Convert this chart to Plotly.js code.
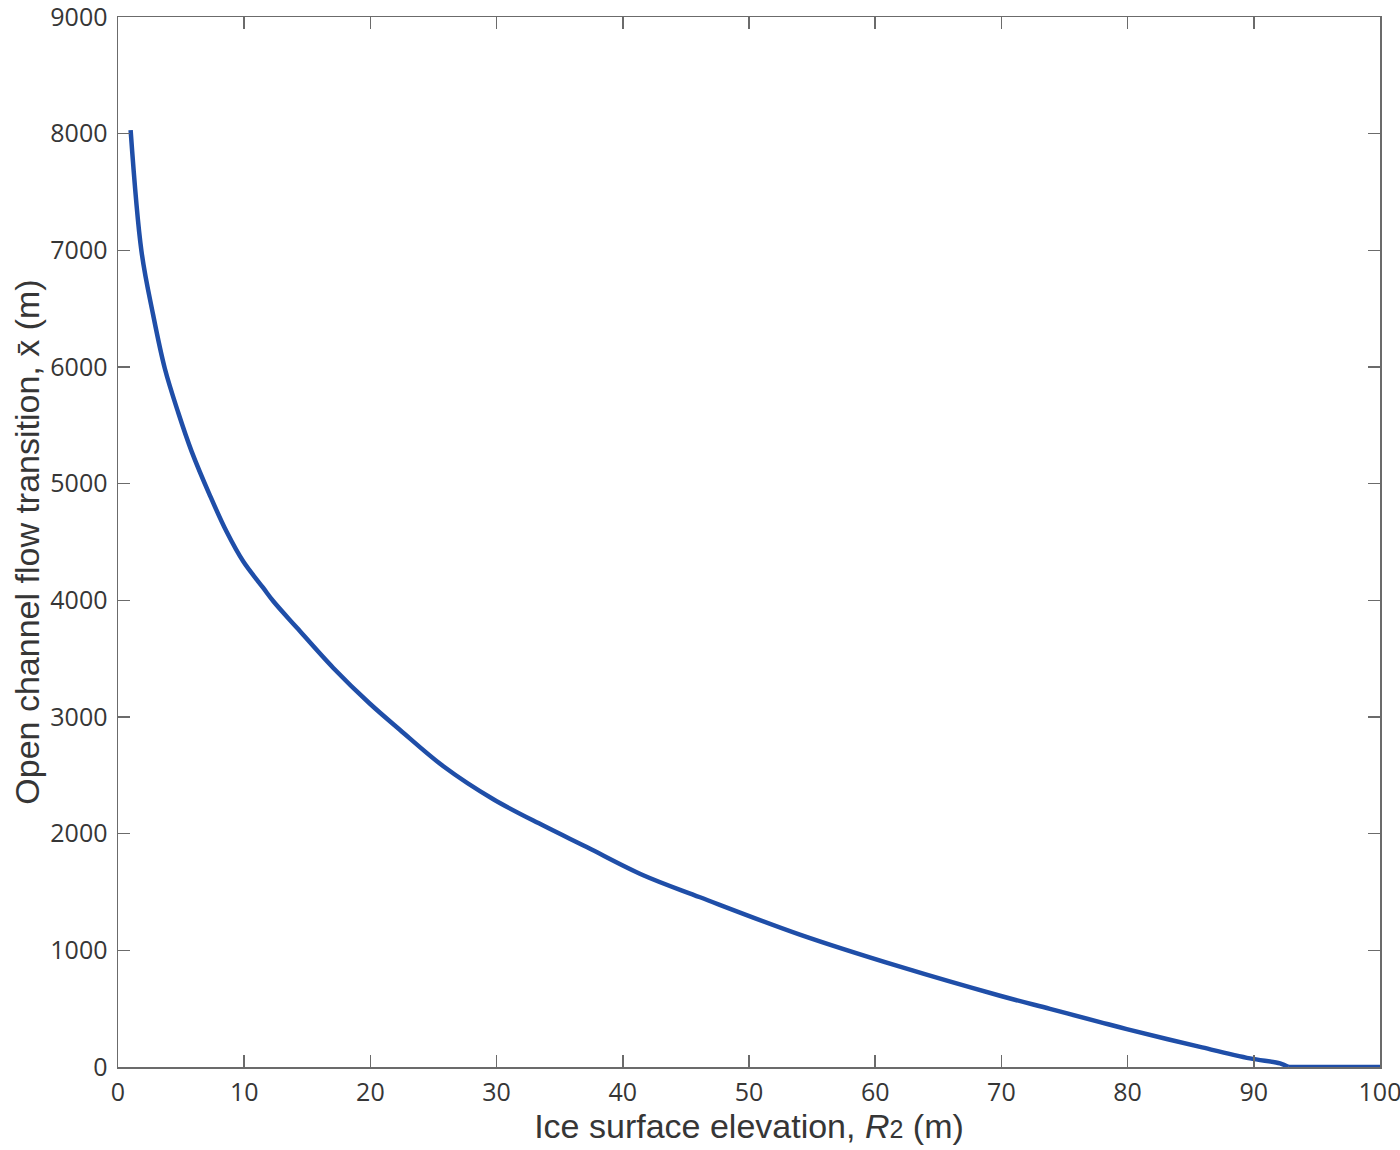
<!DOCTYPE html>
<html>
<head>
<meta charset="utf-8">
<script src="https://cdn.plot.ly/plotly-3.0.1.min.js"></script>
<style>
  html, body { margin: 0; padding: 0; background: #fff; }
  #chart { width: 1400px; height: 1150px; }
</style>
</head>
<body>
<div id="chart"></div>
<script>
// Ice surface elevation R2 (m) vs open channel flow transition x̄ (m)
const elevation = [1, 1.86, 2.77, 3.71, 4.77, 5.84, 7.29, 8.61, 9.93, 11.51, 12.31,
    14.16, 17.06, 19.9, 22.35, 25.78, 29.74, 33.7, 37.14, 41.62, 46.12, 54.03,
    61.96, 69.89, 73.85, 77.81, 79.93, 85.74, 89.7, 92.08, 92.74, 100];
const transition = [8030, 6992, 6454, 5987, 5610, 5275, 4898, 4587, 4332, 4106, 3992,
    3767, 3420, 3120, 2889, 2578, 2295, 2069, 1885, 1644, 1455, 1135,
    860, 611, 498, 385, 325, 172, 74, 31, 0, 0];

const xTicks = [0, 10, 20, 30, 40, 50, 60, 70, 80, 90, 100];
const yTicks = [0, 1000, 2000, 3000, 4000, 5000, 6000, 7000, 8000, 9000];

const axisColor = '#6b6b6b';
const textColor = '#363636';
const lineColor = '#1f4ea8';
const tickFont = { family: 'Open Sans, Noto Sans, sans-serif', size: 25, color: textColor };
const titleFont = { family: 'Liberation Sans, Arial, sans-serif', size: 34, color: textColor };

// curved part is smoothed; the flat tail at zero is drawn straight so the spline does not overshoot
const n = elevation.length;
const curve = {
    x: elevation.slice(0, n - 1),
    y: transition.slice(0, n - 1),
    type: 'scatter',
    mode: 'lines',
    line: { color: lineColor, width: 4.5, shape: 'spline', smoothing: 1 },
    hoverinfo: 'skip',
    showlegend: false
};
const tail = {
    x: elevation.slice(n - 2),
    y: transition.slice(n - 2),
    type: 'scatter',
    mode: 'lines',
    line: { color: lineColor, width: 4.5 },
    hoverinfo: 'skip',
    showlegend: false
};

const commonAxis = {
    showgrid: false,
    zeroline: false,
    showline: true,
    linecolor: axisColor,
    linewidth: 1.5,
    mirror: 'ticks',
    ticks: 'inside',
    ticklen: 12,
    tickwidth: 1.5,
    tickcolor: axisColor,
    tickfont: tickFont,
    tickmode: 'array',
    ticklabeloverflow: 'allow'
};

const layout = {
    width: 1400,
    height: 1150,
    paper_bgcolor: '#ffffff',
    plot_bgcolor: '#ffffff',
    margin: { l: 118, r: 20, t: 17, b: 83 },
    xaxis: {
        ...commonAxis,
        range: [0, 100],
        tickvals: xTicks,
        ticktext: xTicks.map(String),
        ticklabelstandoff: 2,
        title: {
            text: 'Ice surface elevation, <i>R</i><span style="font-size:25px">2</span> (m)',
            font: titleFont,
            standoff: 4
        }
    },
    yaxis: {
        ...commonAxis,
        range: [0, 9000],
        tickvals: yTicks,
        ticktext: yTicks.map(String),
        ticklabelstandoff: 4,
        title: {
            text: 'Open channel flow transition, x\u0304 (m)',
            font: titleFont,
            standoff: 0
        }
    }
};

Plotly.newPlot('chart', [curve, tail], layout, { displayModeBar: false, staticPlot: true });
</script>
</body>
</html>
